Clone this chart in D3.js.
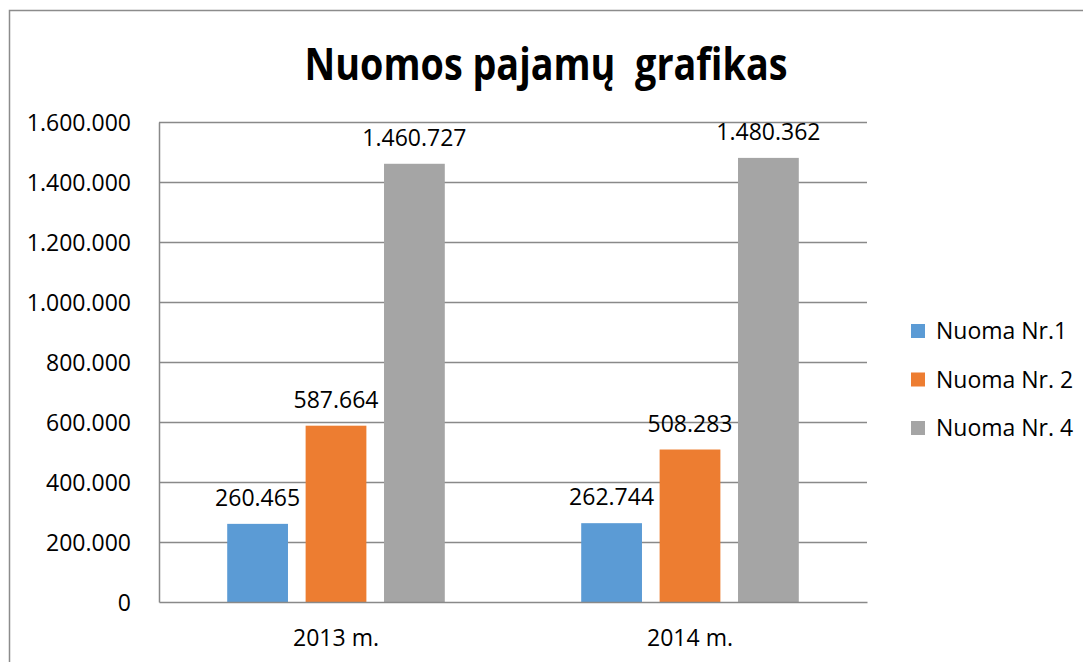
<!DOCTYPE html>
<html><head><meta charset="utf-8">
<script src="https://cdn.jsdelivr.net/npm/d3@7"></script>
<style>html,body{margin:0;padding:0;background:#fff;}svg{display:block;}</style>
</head><body>
<svg id="c" width="1083" height="662"></svg>
<script>
const categories = ["2013 m.", "2014 m."];
const seriesNames = ["Nuoma Nr.1", "Nuoma Nr. 2", "Nuoma Nr. 4"];
const nuoma1 = [260465, 262744];
const nuoma2 = [587664, 508283];
const nuoma4 = [1460727, 1480362];
const seriesColors = ["#5B9BD5", "#ED7D31", "#A5A5A5"];
const yTicks = [0, 200000, 400000, 600000, 800000, 1000000, 1200000, 1400000, 1600000];
const titleText = "Nuomos pajamų  grafikas";

const seriesValues = [nuoma1, nuoma2, nuoma4];
const fmt = v => d3.format(",")(v).replace(/,/g, ".");
const FONT = "'Open Sans', sans-serif";

const svg = d3.select("#c");
svg.append("rect").attr("x", 9.5).attr("y", 10.5).attr("width", 1200).attr("height", 800)
  .attr("fill", "#fff").attr("stroke", "#8c8c8c").attr("stroke-width", 1.5);

const L = 159, R = 867, T = 122, B = 602;
const x0 = d3.scaleBand().domain(categories).range([L, R]).paddingInner(0).paddingOuter(0);
const x1 = d3.scaleBand().domain(seriesNames).range([0, x0.bandwidth()]).paddingInner(0.225).paddingOuter(0.87);
const y = d3.scaleLinear().domain([0, 1600000]).range([B, T]);

// gridlines
svg.append("g").selectAll("line").data(yTicks.filter(t => t > 0)).join("line")
  .attr("x1", L).attr("x2", R).attr("y1", d => Math.round(y(d)) + 0.5).attr("y2", d => Math.round(y(d)) + 0.5)
  .attr("stroke", "#898989").attr("stroke-width", 1.5);

// y axis
const yAxis = svg.append("g").attr("transform", `translate(${L},0)`)
  .call(d3.axisLeft(y).tickValues(yTicks).tickFormat(fmt).tickSize(0).tickPadding(28));
yAxis.select(".domain").attr("stroke", "#898989").attr("stroke-width", 1.5);
yAxis.selectAll("text").attr("font-family", FONT).attr("font-size", 23).attr("fill", "#000").attr("dy", "0.36em");

// bars
const groups = svg.append("g").selectAll("g").data(categories).join("g")
  .attr("transform", d => `translate(${x0(d)},0)`);
groups.each(function(cat, ci) {
  const g = d3.select(this);
  const data = seriesNames.map((s, si) => ({s, si, v: seriesValues[si][ci]}));
  g.selectAll("rect").data(data).join("rect")
    .attr("x", d => x1(d.s)).attr("width", x1.bandwidth())
    .attr("y", d => y(d.v)).attr("height", d => B - y(d.v))
    .attr("fill", d => seriesColors[d.si]);
  g.selectAll("text").data(data).join("text")
    .attr("x", d => x1(d.s) + x1.bandwidth() / 2).attr("y", d => y(d.v) - 18)
    .attr("text-anchor", "middle").attr("font-family", FONT).attr("font-size", 23).attr("fill", "#000")
    .text(d => fmt(d.v));
});

// x axis
const xAxis = svg.append("g").attr("transform", `translate(0,${B})`)
  .call(d3.axisBottom(x0).tickSize(0).tickPadding(28));
xAxis.select(".domain").attr("stroke", "#898989").attr("stroke-width", 1.5);
xAxis.selectAll("text").attr("font-family", FONT).attr("font-size", 23).attr("fill", "#000").attr("dy", "0.71em");

// title
svg.append("text").attr("x", 546).attr("y", 80).attr("text-anchor", "middle")
  .attr("font-family", FONT).attr("font-weight", "bold").attr("font-size", 45)
  .attr("textLength", 483).attr("lengthAdjust", "spacingAndGlyphs")
  .style("white-space", "pre").attr("fill", "#000").text(titleText);

// legend
const lg = svg.append("g").selectAll("g").data(seriesNames).join("g")
  .attr("transform", (d, i) => `translate(911,${331 + i * 48.5})`);
lg.append("rect").attr("x", 0).attr("y", -7).attr("width", 14).attr("height", 14)
  .attr("fill", (d, i) => seriesColors[i]);
lg.append("text").attr("x", 25).attr("y", 0).attr("dy", "0.36em")
  .attr("font-family", FONT).attr("font-size", 23).attr("fill", "#000").text(d => d);
</script>
</body></html>
